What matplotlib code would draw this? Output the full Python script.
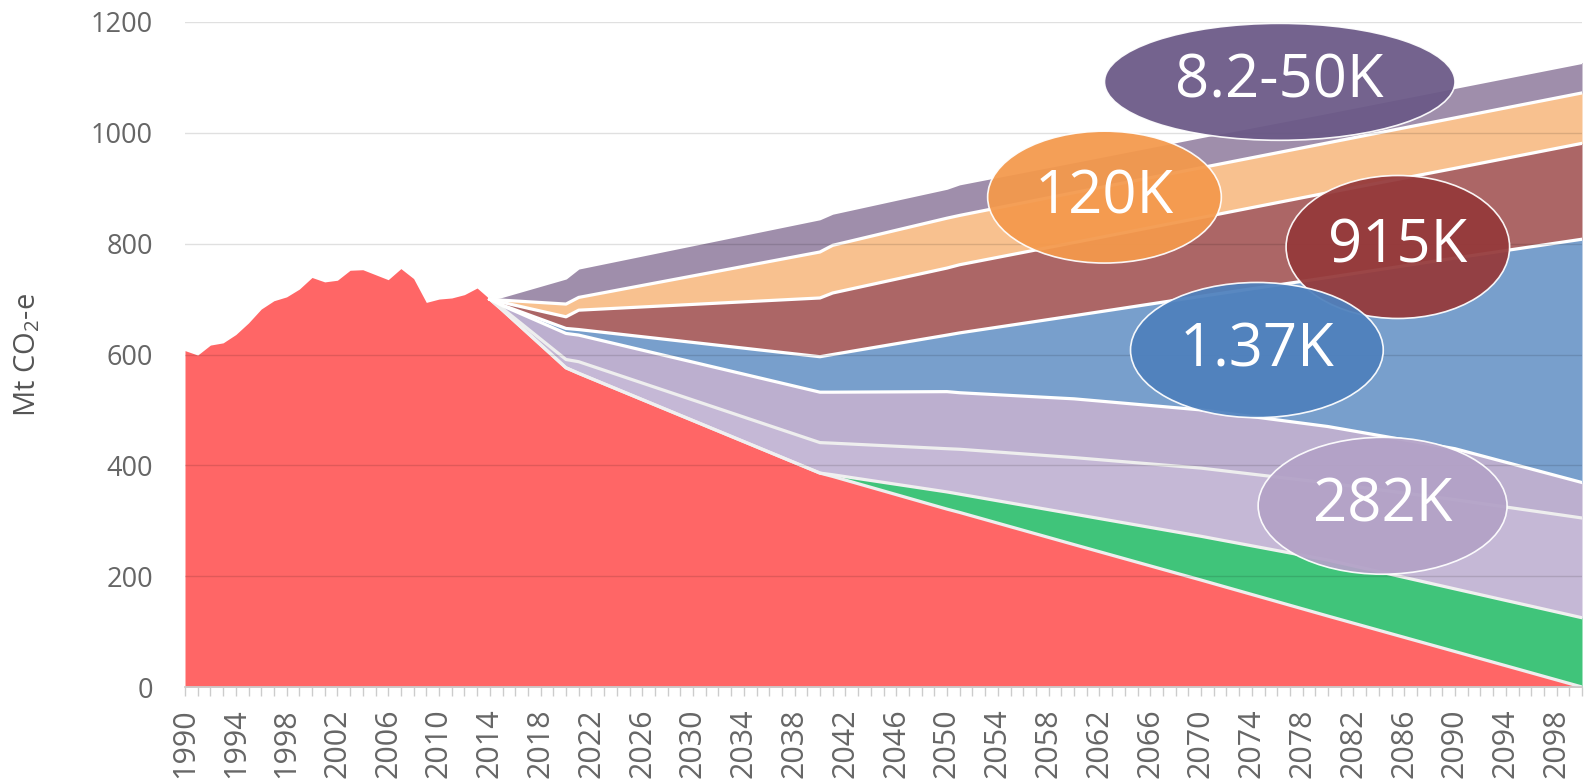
import numpy as np
import matplotlib
matplotlib.use("Agg")
import matplotlib.pyplot as plt
from matplotlib.patches import Ellipse

plt.rcParams['font.family'] = ['Open Sans', 'DejaVu Sans']
plt.rcParams['mathtext.fontset'] = 'custom'
plt.rcParams['mathtext.rm'] = 'Open Sans'
plt.rcParams['mathtext.it'] = 'Open Sans'

# ---------------- data ----------------
hist_years = list(range(1990, 2015))
hist_red = [607, 599, 617, 621, 636, 657, 682, 697, 704, 718, 739, 731, 734,
            752, 753, 744, 735, 755, 737, 694, 700, 702, 708, 720, 700]

proj_years = [2015, 2020, 2021, 2040, 2041, 2050, 2051, 2060, 2070, 2080, 2090, 2100]
red_proj = [680, 576, 566, 386, 380, 321, 315, 257, 193, 128, 64, 0]
green = [0, 0, 0, 0, 3, 31, 33, 55, 79, 101, 113, 125]
light_lavender = [3, 15, 21, 55, 57, 78, 81, 102, 123, 139, 161, 180]
lavender = [5, 47, 48, 91, 92, 103, 102, 106, 105, 102, 92, 64]
blue = [1, 9, 10, 64, 68, 102, 108, 150, 205, 269, 344, 439]
dark_red = [5, 21, 35, 106, 111, 121, 123, 132, 142, 153, 162, 173]
peach = [4, 23, 23, 83, 86, 90, 89, 90, 90, 90, 91, 91]
grey_purple = [7, 47, 53, 60, 58, 54, 57, 56, 56, 55, 55, 55]

bubble_labels = ['8.2-50K', '120K', '915K', '1.37K', '282K']

y_ticks = [0, 200, 400, 600, 800, 1000, 1200]
x_tick_labels = list(range(1990, 2099, 4))

# ---------------- styling ----------------
layer_colors = ['#ff6666', '#40c47a', '#c5b8d6', '#bcafcf', '#789fcc',
                '#ac6666', '#f8c18f', '#9f8eab']
line_colors = ['#eeeeee', '#f0f0f0', '#eeeeee', 'white', 'white', 'white', 'white', 'white']
# bubble layout: (x centre, y centre, width, height) in data units + colour
bubble_layout = [
    (2076.2, 1092, 27.6, 211, '#6b5987'),
    (2062.4, 884, 18.4, 238, '#f4994c'),
    (2085.5, 794, 17.6, 258, '#953a3b'),
    (2074.4, 608, 19.9, 244, '#4f81bd'),
    (2084.3, 327, 19.6, 247, '#b3a2c7'),
]

# ---------------- build stacked arrays ----------------
years = np.array(hist_years + proj_years, dtype=float)
nh = len(hist_years)
zeros = [0] * nh
layers = [
    np.array(hist_red + red_proj, dtype=float),
    np.array(zeros + green, dtype=float),
    np.array(zeros + light_lavender, dtype=float),
    np.array(zeros + lavender, dtype=float),
    np.array(zeros + blue, dtype=float),
    np.array(zeros + dark_red, dtype=float),
    np.array(zeros + peach, dtype=float),
    np.array(zeros + grey_purple, dtype=float),
]
tops = np.cumsum(np.vstack(layers), axis=0)

fig = plt.figure(figsize=(15.85, 7.81), dpi=100)
ax = fig.add_axes([185 / 1585, 1 - 687 / 781, (1582 - 185) / 1585, (687 - 22) / 781])

prev = np.zeros_like(years)
for i, top in enumerate(tops):
    ax.fill_between(years, prev, top, color=layer_colors[i], lw=0, zorder=1)
    prev = top

# boundary lines on projection part
start = nh - 1
for i, top in enumerate(tops):
    ax.plot(years[start:], top[start:], color=line_colors[i], lw=2.3,
            solid_joinstyle='round', zorder=2)

ax.set_xlim(1990, 2100)
ax.set_ylim(0, 1200)

for yv in y_ticks[1:]:
    ax.axhline(yv, color='black', alpha=0.12, lw=1.0, zorder=3)

for s in ['top', 'right', 'left']:
    ax.spines[s].set_visible(False)
ax.spines['bottom'].set_color('#cccccc')
ax.spines['bottom'].set_linewidth(1.3)
ax.spines['bottom'].set_zorder(4)

ax.set_yticks(y_ticks)
ax.set_yticklabels([str(v) for v in y_ticks])
ax.tick_params(axis='y', length=0, pad=23, labelsize=19.5, labelcolor='#666666')

ax.set_xticks(x_tick_labels)
ax.set_xticklabels([str(v) for v in x_tick_labels], rotation=90)
ax.set_xticks(range(1990, 2101), minor=True)
ax.tick_params(axis='x', which='both', length=6.5, width=1.0, color='#cccccc',
               direction='out')
ax.tick_params(axis='x', which='major', pad=9, labelsize=22, labelcolor='#666666')

ax.set_ylabel(r'Mt CO$_{\mathrm{2}}$-e', fontsize=21, color='#555555')
ax.yaxis.set_label_coords(-0.102, 0.5)

for (cx, cy, w, h, col), lab in zip(bubble_layout, bubble_labels):
    e = Ellipse((cx, cy), w, h, facecolor=col, edgecolor='white', lw=1.2,
                alpha=0.94, zorder=5)
    ax.add_patch(e)
    ax.text(cx, cy, lab, color='white', fontsize=43, ha='center', va='center',
            zorder=6)

fig.savefig('out.png', dpi=100)
